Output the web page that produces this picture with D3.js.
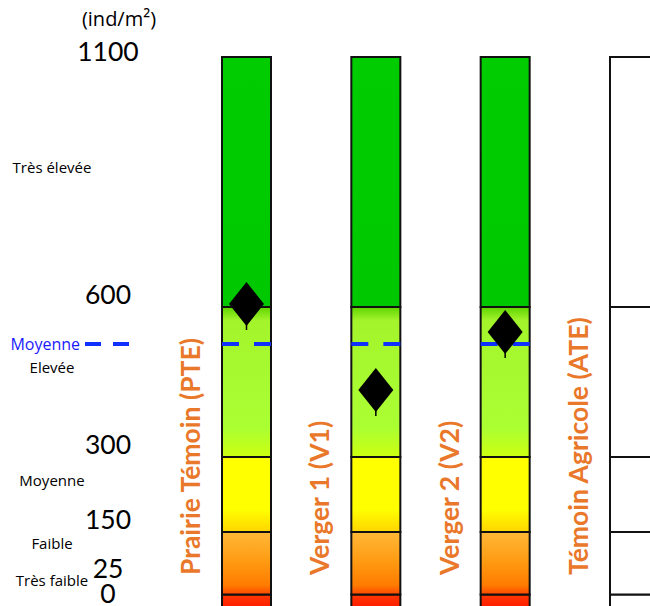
<!DOCTYPE html>
<html>
<head>
<meta charset="utf-8">
<script src="https://cdn.jsdelivr.net/npm/d3@7"></script>
<style>
html,body{margin:0;padding:0;background:#fff;}
svg{display:block;}
</style>
</head>
<body>
<div id="chart"></div>
<script>
// ---- data ----
const categories = ["Prairie Témoin (PTE)", "Verger 1 (V1)", "Verger 2 (V2)", "Témoin Agricole (ATE)"];
const densities = [606, 434, 550, null];           // ind/m², diamond markers
const thresholds = [0, 25, 150, 300, 600, 1100];    // band limits
const tickLabels = ["0", "25", "150", "300", "600", "1100"];
const classLabels = ["Très faible", "Faible", "Moyenne", "Elevée", "Très élevée"];
const meanValue = 526;
const meanLabel = "Moyenne";
const unitLabel = "(ind/m²)";
const coloredBars = [true, true, true, false];

// ---- layout ----
const W = 650, H = 606;
const svg = d3.select("#chart").append("svg").attr("width", W).attr("height", H);
const y = d3.scaleLinear().domain([0, 1100]).range([607, 57]);
const x = d3.scalePoint().domain(categories).range([222, 610]);
const barW = 49;
const orange = "#e9782a";
const sans = "'Open Sans', 'Noto Sans', sans-serif";

// gradients for the bands
const defs = svg.append("defs");
const bandStops = [
  [[0, "#ff3a00"], [1, "#ff1c00"]],
  [[0, "#ffb838"], [0.45, "#ff9c14"], [0.85, "#ff7c00"], [1, "#ff4800"]],
  [[0, "#ffff00"], [0.7, "#ffff00"], [1, "#ffd400"]],
  [[0, "#5ed400"], [0.09, "#a4f42c"], [0.8, "#aaff33"], [1, "#ccff10"]],
  [[0, "#00cc00"], [1, "#00c800"]]
];
bandStops.forEach((stops, i) => {
  const g = defs.append("linearGradient").attr("id", "band" + i)
    .attr("x1", 0).attr("y1", 0).attr("x2", 0).attr("y2", 1);
  stops.forEach(s => g.append("stop").attr("offset", s[0]).attr("stop-color", s[1]));
});

const bands = d3.range(thresholds.length - 1).map(i => ({lo: thresholds[i], hi: thresholds[i + 1], i}));

// bars
categories.forEach((c, ci) => {
  const g = svg.append("g");
  g.selectAll("rect").data(bands).join("rect")
    .attr("x", x(c))
    .attr("y", d => y(d.hi))
    .attr("width", barW)
    .attr("height", d => y(d.lo) - y(d.hi))
    .attr("fill", d => coloredBars[ci] ? `url(#band${d.i})` : "#fff")
    .attr("stroke", "#111")
    .attr("stroke-width", 2);
  // mean dashed line across the bar
  g.append("line")
    .attr("x1", x(c)).attr("x2", x(c) + barW)
    .attr("y1", y(meanValue)).attr("y2", y(meanValue))
    .attr("stroke", coloredBars[ci] ? "#1030ff" : "none")
    .attr("stroke-width", 4)
    .attr("stroke-dasharray", "17,15");
});

// diamonds
const dx = 17.5, dy = 22;
const diamondPath = `M0,${-dy}L${dx},0L0,${dy}L${-dx},0Z`;
categories.forEach((c, ci) => {
  const v = densities[ci];
  if (v == null) return;
  const cx = x(c) + barW / 2, cy = y(v);
  const g = svg.append("g").attr("transform", `translate(${cx},${cy})`);
  g.append("line").attr("x1", 0).attr("x2", 0).attr("y1", 0).attr("y2", dy + 4)
    .attr("stroke", "#000").attr("stroke-width", 1.5);
  g.append("path").attr("d", diamondPath).attr("fill", "#000");
});

// category labels (rotated)
categories.forEach(c => {
  svg.append("text")
    .attr("transform", `translate(${x(c) - 22},575) rotate(-90)`)
    .attr("font-family", "Lato, 'Open Sans', sans-serif")
    .attr("font-weight", "bold")
    .attr("font-size", 26.5)
    .attr("fill", orange)
    .text(c);
});

// tick labels
const tickOffset = {"1100": 4, "25": -17, "0": -4};
svg.selectAll("text.tick").data(thresholds).join("text")
  .attr("class", "tick")
  .attr("x", 108)
  .attr("y", (d, i) => y(d) + (tickOffset[tickLabels[i]] !== undefined ? tickOffset[tickLabels[i]] : -3))
  .attr("text-anchor", "middle")
  .attr("font-family", "Lato, 'Open Sans', sans-serif")
  .attr("font-size", 26.5)
  .attr("fill", "#000")
  .text((d, i) => tickLabels[i]);

// class labels
svg.selectAll("text.cls").data(bands).join("text")
  .attr("class", "cls")
  .attr("x", 52)
  .attr("y", d => (y(d.lo) + y(d.hi)) / 2 - ((d.hi - d.lo) >= 150 ? 14 : 20))
  .attr("dy", "0.35em")
  .attr("text-anchor", "middle")
  .attr("font-family", sans)
  .attr("font-size", 15)
  .attr("fill", "#000")
  .text(d => classLabels[d.i]);

// unit
svg.append("text").attr("x", 119).attr("y", 26).attr("text-anchor", "middle")
  .attr("font-family", sans).attr("font-size", 20)
  .text(unitLabel);

// mean legend
svg.append("text").attr("x", 80).attr("y", y(meanValue)).attr("dy", "0.35em")
  .attr("text-anchor", "end")
  .attr("font-family", sans).attr("font-size", 16)
  .attr("fill", "#1a1aff").text(meanLabel);
svg.append("line").attr("x1", 85).attr("x2", 130)
  .attr("y1", y(meanValue)).attr("y2", y(meanValue))
  .attr("stroke", "#1030ff").attr("stroke-width", 4).attr("stroke-dasharray", "16,12");
</script>
</body>
</html>
